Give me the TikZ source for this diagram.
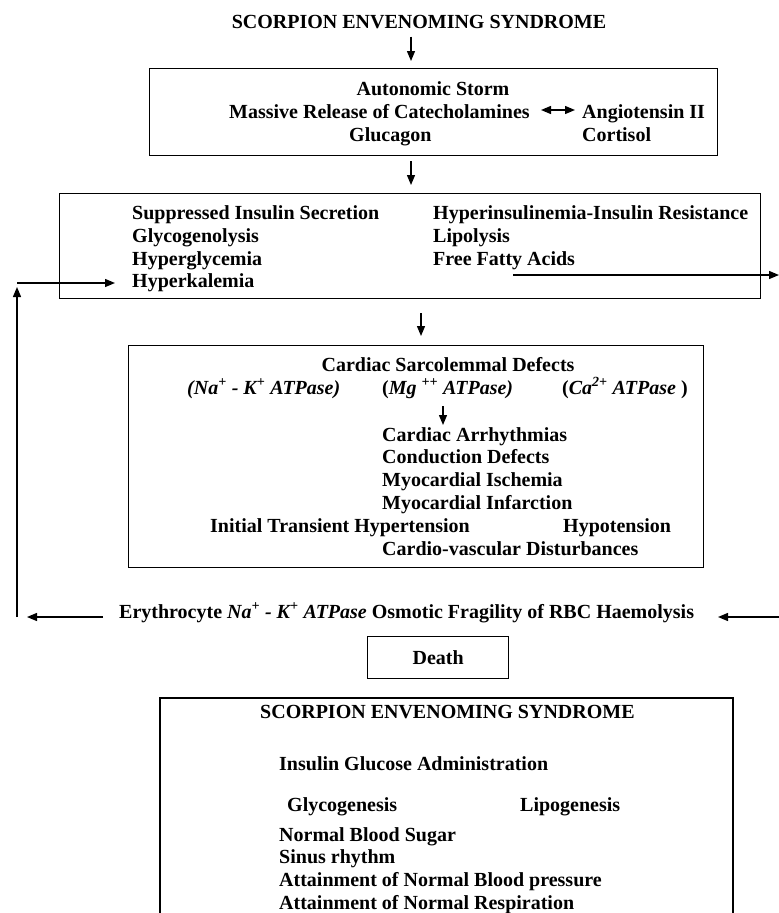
\documentclass[tikz,border=0pt]{standalone}
\usepackage{fontspec}
\setmainfont{Liberation Serif}
\usetikzlibrary{arrows.meta}
\begin{document}
\begin{tikzpicture}[x=1pt,y=-1pt,
  txt/.style={inner sep=0pt, anchor=base west, font=\fontsize{20}{23}\selectfont\bfseries},
  ctxt/.style={txt, anchor=base},
  boxnode/.style={draw, line width=1.4pt, inner sep=0pt, anchor=north west},
  boxline/.style={draw, line width=1.4pt},
  arr/.style={line width=1.3pt, -{Triangle[length=10pt,width=8pt]}},
  darr/.style={line width=1.3pt, {Triangle[length=10pt,width=8pt]}-{Triangle[length=10pt,width=8pt]}}
]
\useasboundingbox (0,0) rectangle (779,913);

% ---- boxes
\node[boxnode, minimum width=568pt, minimum height=87pt] (box1) at (149,68) {};
\node[boxnode, minimum width=701pt, minimum height=105pt] (box2) at (59,193) {};
\node[boxnode, minimum width=575pt, minimum height=222pt] (box3) at (128,345) {};
\node[boxnode, minimum width=141pt, minimum height=42pt, font=\fontsize{20}{23}\selectfont\bfseries] (death) at (367,636) {Death};
\draw[boxline] (160,913) -- (160,698) -- (733,698) -- (733,913);

% ---- texts
\node[ctxt] (title) at (419,28) {SCORPION ENVENOMING SYNDROME};

\node[ctxt] (auto) at (433,95) {Autonomic Storm};
\node[txt] (mass) at (229,118) {Massive Release of Catecholamines};
\node[txt] (angio) at (582,118) {Angiotensin II};
\node[txt] (gluc) at (349,141) {Glucagon};
\node[txt] (cort) at (582,141) {Cortisol};

\node[txt] (supp) at (132,219) {Suppressed Insulin Secretion};
\node[txt] (glyl) at (132,242) {Glycogenolysis};
\node[txt] (hgly) at (132,265) {Hyperglycemia};
\node[txt] (hkal) at (132,287) {Hyperkalemia};
\node[txt] (hins) at (433,219) {Hyperinsulinemia-Insulin Resistance};
\node[txt] (lipo) at (433,242) {Lipolysis};
\node[txt] (ffa) at (433,265) {Free Fatty Acids};

\node[ctxt] (csd) at (448,371) {Cardiac Sarcolemmal Defects};
\node[txt] (na) at (187,394) {\itshape (Na\textsuperscript{+} - K\textsuperscript{+} ATPase)};
\node[txt] (mg) at (382,394) {(\itshape Mg \textsuperscript{++} ATPase)};
\node[txt] (ca) at (562,394) {(\itshape Ca\textsuperscript{2+} ATPase \upshape)};
\node[txt] (carr) at (382,441) {Cardiac Arrhythmias};
\node[txt] (cdef) at (382,463) {Conduction Defects};
\node[txt] (misc) at (382,486) {Myocardial Ischemia};
\node[txt] (minf) at (382,509) {Myocardial Infarction};
\node[txt] (hyper) at (210,532) {Initial Transient Hypertension};
\node[txt] (hypo) at (563,532) {Hypotension};
\node[txt] (cvd) at (382,555) {Cardio-vascular Disturbances};

\node[txt] (ery) at (119,618) {Erythrocyte \textit{Na\textsuperscript{+} - K\textsuperscript{+} ATPase} Osmotic Fragility of RBC Haemolysis};

\node[txt] (title2) at (260,718) {SCORPION ENVENOMING SYNDROME};
\node[txt] (iga) at (279,770) {Insulin Glucose Administration};
\node[txt] (glyg) at (287,811) {Glycogenesis};
\node[txt] (lipg) at (520,811) {Lipogenesis};
\node[txt] (nbs) at (279,841) {Normal Blood Sugar};
\node[txt] (sin) at (279,863) {Sinus rhythm};
\node[txt] (nbp) at (279,886) {Attainment of Normal Blood pressure};
\node[txt] (nres) at (279,909) {Attainment of Normal Respiration};

% ---- connectors
\coordinate (c1) at (411,0);
\coordinate (c3) at (421,0);
\coordinate (c4) at (443,0);
\draw[arr] (title.south -| c1) ++(0,8) -- ([yshift=7pt]box1.north -| c1);
\draw[arr] (box1.south -| c1) ++(0,5) -- ([yshift=8pt]box2.north -| c1);
\draw[arr] (box2.south -| c3) ++(0,14) -- ([yshift=9pt]box3.north -| c3);
\draw[arr] (c4 |- 0,406) -- (c4 |- 0,425);

\coordinate (dl) at (541,110);
\coordinate (dr) at (575,110);
\draw[darr] (dl) -- (dr);

\coordinate (ffaS) at (513,275);
\coordinate (ffaE) at (779,275);
\draw[arr] (ffaS) -- (ffaE);

\coordinate (fbBot) at (17,617);
\coordinate (fbTop) at (17,287);
\coordinate (fbL) at (17,283);
\coordinate (fbR) at (115,283);
\draw[arr] (fbBot) -- (fbTop);
\draw[arr] (fbL) -- (fbR);

\coordinate (elS) at (103,617);
\coordinate (elE) at (27,617);
\coordinate (erS) at (779,617);
\coordinate (erE) at (718,617);
\draw[arr] (elS) -- (elE);
\draw[arr] (erS) -- (erE);
\end{tikzpicture}
\end{document}
